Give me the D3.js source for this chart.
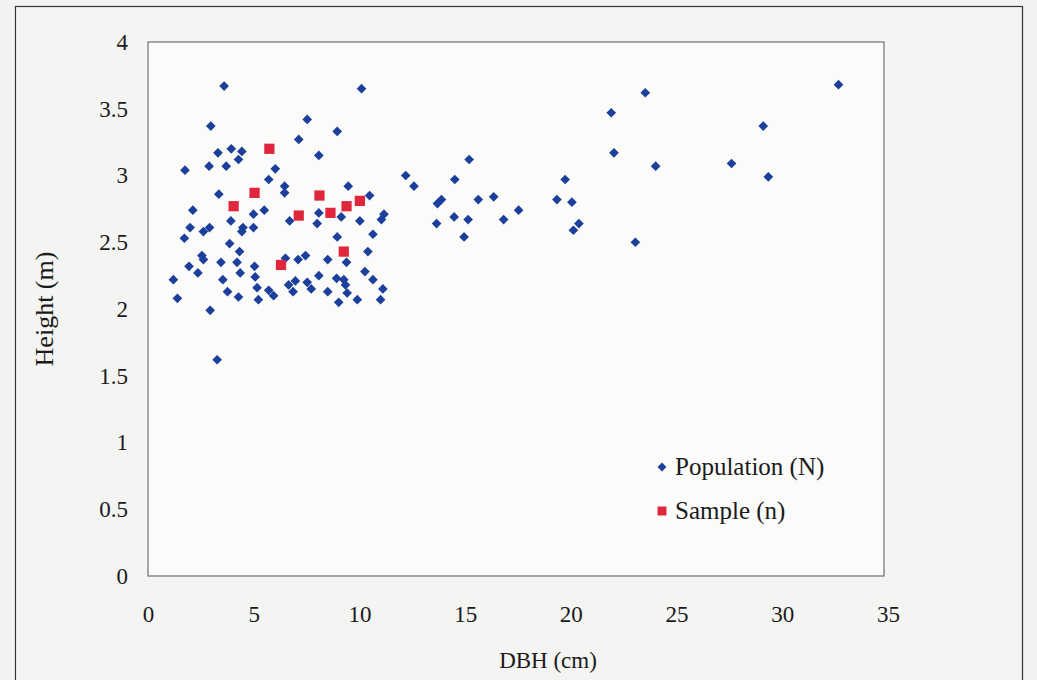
<!DOCTYPE html>
<html>
<head>
<meta charset="utf-8">
<script src="https://cdn.jsdelivr.net/npm/d3@7"></script>
<style>
  body { margin: 0; background: #f2f2f0; }
  svg { display: block; }
  text { font-family: "Liberation Serif", "Times New Roman", serif; fill: #1a1a1a; }
</style>
</head>
<body>
<svg width="1037" height="680"></svg>
<script>
// Population (N): DBH (cm), height (m)
var popDbh = [3.60, 2.97, 3.31, 3.94, 4.44, 4.28, 1.75, 2.89, 3.70, 3.35,
    2.12, 4.99, 3.92, 1.99, 2.62, 2.91, 4.49, 4.99, 4.44, 1.72,
    3.86, 4.33, 2.55, 2.62, 3.45, 4.21, 1.94, 2.36, 4.36, 5.04,
    1.20, 3.54, 5.07, 3.76, 4.28, 5.16, 1.39, 2.94, 5.22, 3.27,
    10.10, 7.53, 8.95, 7.13, 8.08, 6.02, 5.71, 6.46, 6.46, 9.47,
    10.48, 5.50, 8.08, 9.14, 6.70, 8.00, 10.02, 11.16, 11.04, 8.95,
    10.64, 10.40, 6.50, 7.10, 7.45, 8.50, 9.39, 8.08, 10.26, 10.64,
    8.92, 9.26, 9.34, 9.42, 5.71, 5.94, 6.65, 6.97, 6.86, 7.53,
    7.72, 8.50, 9.90, 11.11, 11.00, 9.02,
    15.19, 12.19, 12.58, 14.51, 19.73, 13.69, 13.88, 15.62, 16.35, 19.34,
    20.05, 17.53, 14.48, 15.14, 13.65, 16.82, 20.38, 20.12, 14.95,
    32.66, 23.52, 21.91, 29.10, 22.04, 24.01, 27.60, 29.34, 23.05];
var popHeight = [3.67, 3.37, 3.17, 3.20, 3.18, 3.12, 3.04, 3.07, 3.07, 2.86,
    2.74, 2.71, 2.66, 2.61, 2.58, 2.61, 2.61, 2.61, 2.58, 2.53,
    2.49, 2.43, 2.40, 2.37, 2.35, 2.35, 2.32, 2.27, 2.27, 2.32,
    2.22, 2.22, 2.24, 2.13, 2.09, 2.16, 2.08, 1.99, 2.07, 1.62,
    3.65, 3.42, 3.33, 3.27, 3.15, 3.05, 2.97, 2.92, 2.87, 2.92,
    2.85, 2.74, 2.72, 2.69, 2.66, 2.64, 2.66, 2.71, 2.67, 2.54,
    2.56, 2.43, 2.38, 2.37, 2.40, 2.37, 2.35, 2.25, 2.28, 2.22,
    2.23, 2.22, 2.18, 2.12, 2.14, 2.10, 2.18, 2.21, 2.13, 2.20,
    2.15, 2.13, 2.07, 2.15, 2.07, 2.05,
    3.12, 3.00, 2.92, 2.97, 2.97, 2.79, 2.82, 2.82, 2.84, 2.82,
    2.80, 2.74, 2.69, 2.67, 2.64, 2.67, 2.64, 2.59, 2.54,
    3.68, 3.62, 3.47, 3.37, 3.17, 3.07, 3.09, 2.99, 2.50];

// Sample (n)
var sampleDbh = [4.05, 5.04, 5.74, 7.13, 8.11, 8.63, 9.39, 10.02, 9.26, 6.29];
var sampleHeight = [2.77, 2.87, 3.20, 2.70, 2.85, 2.72, 2.77, 2.81, 2.43, 2.33];

var xTicks = [0, 5, 10, 15, 20, 25, 30, 35];
var yTicks = [0, 0.5, 1, 1.5, 2, 2.5, 3, 3.5, 4];

var blue = "#1c3f9c", red = "#e0263c";

var svg = d3.select("svg");

// outer chart frame
svg.append("rect")
    .attr("x", 15.5).attr("y", 6.5)
    .attr("width", 1007).attr("height", 700)
    .attr("fill", "#f4f4f2")
    .attr("stroke", "#333").attr("stroke-width", 1.2);

var x = d3.scaleLinear().domain([0, 35]).range([148, 888]),
    y = d3.scaleLinear().domain([0, 4]).range([576, 42]);

// plot area
svg.append("rect")
    .attr("x", x(0)).attr("y", y(4))
    .attr("width", 884 - x(0)).attr("height", y(0) - y(4))
    .attr("fill", "#fbfbf9")
    .attr("stroke", "#555").attr("stroke-width", 1);

var xAxis = d3.axisBottom(x).tickValues(xTicks).tickSize(0).tickPadding(30);
svg.append("g")
    .attr("transform", "translate(0," + y(0) + ")")
    .call(xAxis)
    .call(function (g) { g.select(".domain").remove(); })
    .selectAll("text")
    .style("font-size", "23px")
    .style("font-family", "Liberation Serif");

var yAxis = d3.axisLeft(y).tickValues(yTicks).tickSize(0).tickPadding(20)
    .tickFormat(function (d) { return d; });
svg.append("g")
    .attr("transform", "translate(" + x(0) + ",0)")
    .call(yAxis)
    .call(function (g) { g.select(".domain").remove(); })
    .selectAll("text")
    .style("font-size", "23px")
    .style("font-family", "Liberation Serif");

svg.selectAll(".tick text").attr("fill", "#1a1a1a");

// axis titles
svg.append("text")
    .attr("x", 548).attr("y", 668)
    .attr("text-anchor", "middle")
    .style("font-size", "23px")
    .text("DBH (cm)");

svg.append("text")
    .attr("transform", "translate(53,309) rotate(-90)")
    .attr("text-anchor", "middle")
    .style("font-size", "26px")
    .text("Height (m)");

var pop = popDbh.map(function (d, i) { return [d, popHeight[i]]; });
var sample = sampleDbh.map(function (d, i) { return [d, sampleHeight[i]]; });

var diamond = d3.symbol().type(d3.symbolDiamond2).size(60),
    square = d3.symbol().type(d3.symbolSquare).size(105);

svg.append("g").selectAll("path")
    .data(pop)
    .enter().append("path")
    .attr("d", diamond)
    .attr("transform", function (d) { return "translate(" + x(d[0]) + "," + y(d[1]) + ")"; })
    .attr("fill", blue);

svg.append("g").selectAll("path")
    .data(sample)
    .enter().append("path")
    .attr("d", square)
    .attr("transform", function (d) { return "translate(" + x(d[0]) + "," + y(d[1]) + ")"; })
    .attr("fill", red);

// legend
var legend = svg.append("g").attr("transform", "translate(662,0)");
legend.append("path")
    .attr("d", d3.symbol().type(d3.symbolDiamond2).size(50))
    .attr("transform", "translate(0,467)")
    .attr("fill", blue);
legend.append("text")
    .attr("x", 13).attr("y", 475)
    .style("font-size", "25px")
    .text("Population (N)");
legend.append("path")
    .attr("d", d3.symbol().type(d3.symbolSquare).size(80))
    .attr("transform", "translate(0,511)")
    .attr("fill", red);
legend.append("text")
    .attr("x", 13).attr("y", 519)
    .style("font-size", "25px")
    .text("Sample (n)");
</script>
</body>
</html>
